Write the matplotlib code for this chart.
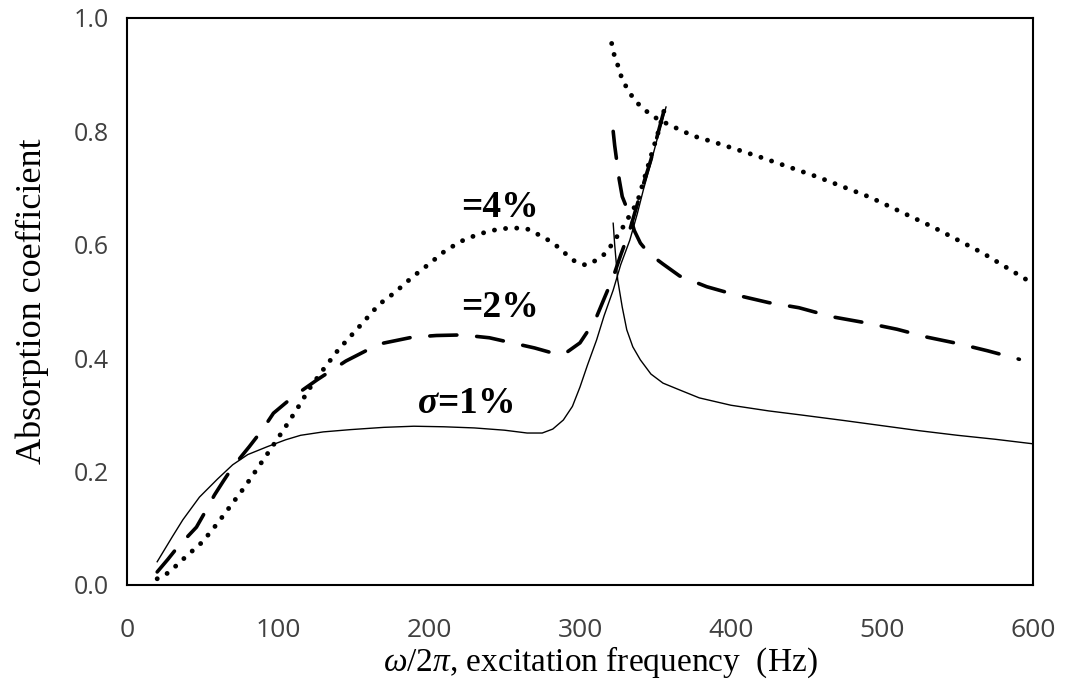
import matplotlib
matplotlib.use("Agg")
import matplotlib.pyplot as plt

plt.rcParams['mathtext.fontset'] = 'custom'
plt.rcParams['mathtext.rm'] = 'Liberation Serif'
plt.rcParams['mathtext.it'] = 'Liberation Serif:italic'
plt.rcParams['mathtext.bf'] = 'Liberation Serif:italic:bold'

# sigma = 1 %  (thin solid), two branches either side of the resonance
f1_lo = [20, 30, 37, 48, 60, 70, 80, 93, 105, 115, 130, 148, 170, 190, 210, 230,
         250, 265, 275, 282, 289, 295, 300, 305, 311, 316, 322, 327, 333, 338,
         342, 347, 352, 357]
a1_lo = [0.041, 0.085, 0.115, 0.155, 0.187, 0.212, 0.230, 0.244, 0.256, 0.264,
         0.270, 0.274, 0.278, 0.280, 0.279, 0.277, 0.273, 0.268, 0.268, 0.275,
         0.291, 0.315, 0.349, 0.388, 0.432, 0.475, 0.520, 0.565, 0.608, 0.655,
         0.697, 0.745, 0.795, 0.843]
f1_hi = [322, 323, 325, 328, 331, 335, 340, 347, 355, 366, 379, 400, 425, 446,
         475, 500, 525, 550, 575, 600]
a1_hi = [0.638, 0.600, 0.538, 0.490, 0.450, 0.420, 0.397, 0.372, 0.356, 0.344,
         0.330, 0.317, 0.307, 0.300, 0.290, 0.281, 0.272, 0.264, 0.257, 0.249]

# sigma = 2 %  (dashed)
f2_lo = [20, 27, 33, 40, 46, 52, 58, 64, 70, 81, 90, 97, 110, 126, 145, 167,
         189, 205, 222, 240, 255, 270, 282, 290, 300, 305, 311, 316, 322, 327,
         333, 340, 347, 352, 356]
a2_lo = [0.023, 0.045, 0.065, 0.085, 0.102, 0.130, 0.159, 0.184, 0.208, 0.244,
         0.275, 0.303, 0.332, 0.362, 0.395, 0.425, 0.437, 0.440, 0.441, 0.436,
         0.427, 0.418, 0.409, 0.408, 0.427, 0.447, 0.473, 0.505, 0.543, 0.582,
         0.626, 0.690, 0.750, 0.800, 0.840]
f2_hi = [322, 323, 324, 326, 328, 331, 333, 336, 340, 344, 348, 355, 366, 384,
         404, 425, 445, 467, 488, 510, 530, 550, 570, 591]
a2_hi = [0.800, 0.775, 0.755, 0.715, 0.685, 0.665, 0.652, 0.625, 0.603, 0.590,
         0.580, 0.566, 0.545, 0.526, 0.511, 0.498, 0.489, 0.473, 0.463, 0.451,
         0.437, 0.426, 0.413, 0.398]

# sigma = 4 %  (dotted)
f4_lo = [20, 27, 33, 39, 50, 60, 69, 78, 87, 96, 105, 113, 121, 130, 140, 155,
         167, 177, 189, 200, 211, 222, 233, 245, 255, 265, 271, 278, 285, 291,
         297, 304, 311, 318, 322, 326, 330, 334, 338, 343, 348, 352, 356]
a4_lo = [0.011, 0.021, 0.035, 0.050, 0.076, 0.109, 0.141, 0.173, 0.208, 0.243,
         0.279, 0.312, 0.347, 0.380, 0.415, 0.459, 0.495, 0.515, 0.543, 0.566,
         0.590, 0.607, 0.619, 0.627, 0.630, 0.628, 0.620, 0.610, 0.597, 0.583,
         0.570, 0.564, 0.573, 0.587, 0.605, 0.620, 0.638, 0.657, 0.675, 0.720,
         0.765, 0.800, 0.840]
f4_hi = [321, 323, 326, 328, 332, 336, 342, 348, 355, 362, 375, 390, 419, 457,
         492, 534, 567, 596]
a4_hi = [0.955, 0.931, 0.910, 0.890, 0.873, 0.855, 0.840, 0.827, 0.817, 0.808,
         0.792, 0.780, 0.755, 0.720, 0.684, 0.631, 0.585, 0.538]

fig = plt.figure(figsize=(10.78, 6.83), dpi=100)
ax = fig.add_axes([0.1178, 0.1435, 0.8404, 0.8302])

ax.plot(f1_lo, a1_lo, color='black', lw=1.0)
ax.plot(f1_hi, a1_hi, color='black', lw=1.0)

dash = dict(color='black', lw=2.6, linestyle=(0, (7.5, 5.5)),
            dash_capstyle='round')
ax.plot(f2_lo, a2_lo, **dash)
ax.plot(f2_hi, a2_hi, **dash)

dots = dict(color='black', lw=3.5, linestyle=(0, (0.01, 2.3)),
            dash_capstyle='round')
ax.plot(f4_lo, a4_lo, **dots)
ax.plot(f4_hi, a4_hi, **dots)

lab = dict(fontfamily='Liberation Serif', fontweight='bold', fontsize=27,
           ha='left', va='baseline')
ax.text(221, 0.649, '=4%', **lab)
ax.text(221, 0.473, '=2%', **lab)
ax.text(192, 0.303, r'$\mathbf{\sigma}$=1%', **lab)

ax.set_xlim(0, 600)
ax.set_ylim(0, 1.0)
ax.set_xticks(range(0, 601, 100))
ax.set_yticks([0.0, 0.2, 0.4, 0.6, 0.8, 1.0])
ax.set_yticklabels(['0.0', '0.2', '0.4', '0.6', '0.8', '1.0'])
ax.tick_params(length=0, labelcolor='#404040')
ax.tick_params(axis='x', pad=24, labelsize=19)
ax.tick_params(axis='y', pad=13, labelsize=18)
for lbl in ax.get_xticklabels() + ax.get_yticklabels():
    lbl.set_fontfamily('Open Sans')
for sp in ax.spines.values():
    sp.set_linewidth(1.5)

ax.set_xlabel(r'$\mathit{\omega/2\pi}$, excitation frequency  (Hz)',
              fontfamily='Liberation Serif', fontsize=24)
ax.xaxis.set_label_coords(0.522, -0.105)
ax.set_ylabel('Absorption coefficient', fontfamily='Liberation Serif',
              fontsize=26, labelpad=18)

fig.savefig('out.png', dpi=100)
